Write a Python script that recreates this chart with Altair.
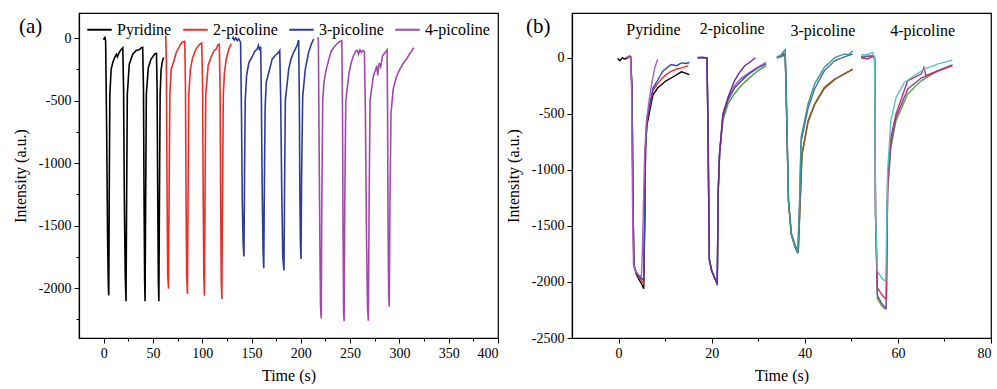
import altair as alt
import pandas as pd

FONT = "Liberation Serif"

# ---------------- Panel (a) data ----------------
series_names = ["Pyridine", "2-picoline", "3-picoline", "4-picoline"]
series_colors = ["#000000", "#e8302a", "#2e3c96", "#a04aab"]

pyridine_t = [0, 0.6, 1.2, 2.0, 3.0, 4.0, 4.8, 5.2, 5.7, 6.3, 7.6, 9.5, 11.5, 13, 14, 15.5, 17, 19.4,
              20.2, 21.0, 21.9, 22.7, 23.3, 24.0, 26.0, 29.5, 33, 36, 38, 39.6,
              40.4, 41.0, 41.6, 42.0, 42.6, 43.3, 45.3, 48, 50.7, 52, 53.6,
              54.2, 54.9, 55.5, 56.0, 56.6, 57.3, 58.2, 59.5, 60.8]
pyridine_y = [0, -15, 10, -20, -700, -1600, -2000, -2060, -1200, -450, -250, -190, -150, -130, -150, -120, -100, -78,
              -400, -1300, -1900, -2105, -1300, -450, -210, -130, -100, -95, -80, -75,
              -400, -1300, -1950, -2105, -1300, -450, -240, -170, -140, -125, -123,
              -400, -1300, -1950, -2105, -1300, -450, -260, -190, -155]

picoline2_t = [63.0, 63.6, 64.3, 65.0, 65.8, 66.4, 67.2, 68.5, 71, 73.5, 75.6, 78, 80, 82.3,
               83.0, 83.6, 84.2, 85.0, 85.6, 86.4, 88, 90, 93, 95, 97.5, 99.5,
               100.4, 101.0, 101.6, 102.2, 102.8, 103.6, 106, 108.6, 112, 114, 116, 117.3,
               118.1, 118.7, 119.3, 119.9, 120.5, 121.4, 122.5, 124.4, 127, 128.8, 129.5]
picoline2_y = [20, -200, -1200, -1900, -2005, -1200, -450, -250, -190, -120, -86, -50, -32, -27,
               -400, -1300, -1900, -2048, -1300, -450, -250, -166, -100, -72, -50, -40,
               -400, -1300, -1900, -2061, -1300, -450, -220, -160, -100, -90, -54, -50,
               -400, -1300, -1950, -2088, -1300, -450, -280, -166, -90, -54, -45]

picoline3_t = [130.5, 131.5, 132.5, 134, 135.5, 137, 138.9, 139.8, 140.6, 141.5, 142.3,
               142.9, 143.6, 145, 147.3, 150.7, 153, 155.7, 157, 158, 159.3,
               160.0, 160.8, 161.7, 162.4, 163.0, 163.8, 165, 167.5, 170.9, 174, 176.6, 178.6,
               179.6, 180.6, 181.7, 182.9, 183.5, 184.3, 187.7, 190, 192.7, 196.1, 197.8,
               198.5, 199.0, 199.6, 200.2, 200.8, 201.9, 204.5, 207.9, 210.6, 213]
picoline3_y = [-10, 5, -15, 0, -20, -5, -35, -600, -1300, -1650, -1748,
               -1100, -500, -300, -196, -150, -110, -88, -60, -90, -70,
               -500, -1200, -1700, -1841, -1200, -550, -350, -276, -169, -140, -123, -100,
               -500, -1200, -1750, -1860, -1200, -500, -249, -170, -115, -62, -16,
               -500, -1200, -1650, -1767, -1100, -470, -250, -115, -50, -8]

picoline4_t = [217, 217.8, 218.5, 219.4, 220.0, 220.7, 221.3, 222.2, 223.5, 225.8, 230.5, 233, 236.5, 239, 241.6,
               242.3, 242.8, 243.4, 243.9, 244.6, 245.6, 249, 251, 253.4, 256, 257.5, 258.5, 260, 261.5, 263, 264.5,
               265.5, 266.5, 267.6, 268.5, 269.3, 270.2, 273.6, 276, 277, 278, 279.5, 281, 282.9, 285, 286.9, 287.5,
               288.0, 288.5, 289.1, 289.7, 290.4, 291.5, 293.7, 297, 300.5, 304, 307.3, 310, 312, 314, 315]
picoline4_y = [5, -10, -800, -1700, -2150, -2243, -1300, -500, -350, -249, -110, -80, -48, -30, -21,
               -600, -1500, -2200, -2264, -1300, -500, -276, -200, -142, -102, -100, -130, -95, -115, -100, -107,
               -600, -1500, -2150, -2261, -1300, -500, -303, -250, -222, -300, -200, -230, -142, -120, -102, -95,
               -600, -1500, -2050, -2150, -1300, -600, -410, -310, -249, -200, -169, -130, -110, -83, -85]

# ---------------- Panel (b) data (drawing order: later = on top) ----------------
b_curves = {
    "pyr_black": ([-0.2, 0.3, 0.8, 1.3, 1.8, 2.3, 2.6, 2.9, 3.1, 3.3, 3.8, 4.4, 5.0, 5.4, 5.6, 5.8, 6.1, 6.7, 7.4, 8.4, 9.2, 10.2, 11.3, 12.7, 13.5, 14.2, 15.2],
                  [-5, -25, 0, -10, -5, 15, 10, -300, -1300, -1850, -1930, -1980, -2020, -2060, -1500, -800, -600, -470, -330, -270, -240, -205, -180, -145, -125, -135, -150]),
    "pyr_red": ([1.5, 2.3, 2.6, 2.9, 3.1, 3.3, 3.8, 4.4, 5.0, 5.4, 5.6, 5.8, 6.1, 6.7, 7.4, 8.4, 9.2, 10.2, 11.3, 12.5, 13.5, 14.2, 15.0],
                [0, 10, 5, -300, -1300, -1850, -1920, -1960, -1990, -2017, -1500, -800, -560, -440, -290, -230, -190, -150, -120, -100, -90, -80, -70]),
    "pyr_blue": ([1.5, 2.6, 2.9, 3.1, 3.3, 3.8, 4.4, 5.0, 5.4, 5.6, 5.8, 6.1, 6.7, 7.4, 8.4, 9.5, 11.3, 12.5, 13.5, 14.5, 15.2],
                 [0, 5, -300, -1300, -1850, -1920, -1950, -1970, -1985, -1500, -800, -540, -420, -270, -200, -120, -60, -70, -45, -50, -42]),
    "pyr_orchid": ([1.5, 2.6, 2.8, 3.0, 3.2, 3.8, 4.4, 4.9, 5.1, 5.6, 6.0, 6.5, 7.1, 7.8, 8.4],
                   [5, 5, -300, -1300, -1850, -1910, -1940, -1950, -1745, -857, -560, -400, -234, -86, -12]),
    "pic2_green": ([17.0, 19.0, 19.2, 19.5, 20.0, 20.6, 21.0, 21.2, 21.4, 21.7, 22.4, 23.5, 24.9, 26.3, 27.8, 29.9, 31.7],
                   [0, 0, -600, -1800, -1900, -1960, -1990, -2010, -1200, -857, -560, -410, -320, -250, -190, -116, -71]),
    "pic2_blue": ([17.0, 19.0, 19.2, 19.5, 20.0, 20.6, 21.0, 21.2, 21.4, 21.7, 22.4, 23.5, 24.9, 26.3, 27.8, 29.9, 31.7],
                  [0, 0, -600, -1800, -1900, -1960, -1990, -2010, -1200, -857, -530, -380, -270, -210, -150, -90, -55]),
    "pic2_violet": ([17.0, 19.0, 19.2, 19.5, 20.0, 20.6, 21.0, 21.2, 21.4, 21.7, 22.4, 23.5, 24.9, 26.3, 27.8, 29.2, 30.5, 31.7],
                    [5, 0, -600, -1800, -1900, -1960, -2000, -2020, -1200, -857, -520, -370, -250, -185, -140, -100, -70, -40]),
    "pic2_purple": ([17.0, 18.0, 19.0, 19.2, 19.5, 20.0, 20.6, 21.0, 21.2, 21.4, 21.7, 22.4, 23.5, 24.9, 26.0, 27.1, 28.2, 29.4],
                    [0, 5, 0, -600, -1800, -1900, -1960, -2000, -2030, -1200, -857, -500, -353, -205, -130, -71, -40, 0]),
    "pic3_olive": ([34.0, 35.0, 35.5, 35.8, 36.0, 36.5, 37.1, 37.9, 38.6, 39.0, 39.4, 40.7, 42.1, 44.2, 46.4, 48.5, 50.3],
                   [0, 10, 20, 10, -300, -1275, -1560, -1670, -1730, -1300, -870, -575, -420, -275, -195, -140, -105]),
    "pic3_brown": ([34.0, 35.0, 35.5, 35.8, 36.0, 36.5, 37.1, 37.9, 38.6, 39.0, 39.4, 40.7, 42.1, 44.2, 46.4, 48.5, 50.3],
                   [10, 20, 30, 20, -300, -1275, -1570, -1680, -1740, -1300, -857, -560, -412, -264, -190, -145, -101]),
    "pic3_blue": ([34.0, 35.0, 35.5, 35.8, 36.0, 36.5, 37.1, 37.9, 38.5, 38.9, 39.2, 40.7, 42.1, 44.2, 46.4, 48.5, 50.3],
                  [0, 20, 40, 20, -300, -1275, -1580, -1690, -1745, -1275, -750, -450, -278, -116, -27, 9, 33]),
    "pic3_teal": ([34.0, 34.5, 35.0, 35.5, 35.8, 36.0, 36.5, 37.1, 37.9, 38.5, 38.9, 39.2, 40.7, 42.1, 44.2, 46.4, 47.5, 48.5, 49.5, 50.3],
                  [0, 10, 30, 60, 74, -300, -1275, -1572, -1676, -1735, -1275, -709, -412, -234, -86, 0, 20, 33, 30, 62]),
    "pic4_green": ([52.1, 54.6, 55.0, 55.2, 55.6, 56.5, 57.1, 57.5, 57.8, 58.5, 59.6, 62.1, 65.0, 68.5, 71.7],
                   [10, 20, 0, -1400, -2150, -2210, -2237, -2240, -1200, -798, -561, -323, -205, -116, -62]),
    "pic4_purple": ([52.1, 54.6, 55.0, 55.2, 55.6, 56.5, 57.1, 57.5, 57.8, 58.5, 59.6, 62.1, 65.0, 68.5, 71.7],
                    [5, 15, 0, -1400, -2120, -2190, -2220, -2230, -1150, -760, -530, -280, -180, -120, -70]),
    "pic4_crimson": ([52.1, 53.5, 54.6, 55.0, 55.2, 55.6, 56.5, 57.1, 57.5, 57.8, 58.5, 59.6, 62.1, 65.0, 65.6, 66.0, 68.5, 71.7],
                     [0, -10, 10, 0, -1400, -2050, -2110, -2140, -2148, -1100, -709, -501, -205, -145, -86, -160, -116, -66]),
    "pic4_cyan": ([52.1, 53.5, 54.6, 55.0, 55.2, 55.6, 56.5, 57.1, 57.4, 57.8, 58.5, 59.6, 61.4, 63.5, 65.7, 68.5, 71.7],
                  [25, 30, 47, 0, -1400, -1900, -1965, -1985, -1990, -1006, -561, -353, -220, -160, -101, -56, -21]),
}
b_colors = ["#000000", "#e8302a", "#2e4aa8", "#b05cc0",
            "#4aa040", "#3a48a8", "#8a5ac0", "#6a2a8a",
            "#7a6a2a", "#8a5a2a", "#4a68a8", "#3a9a9a",
            "#58a840", "#7a4aa0", "#c8306e", "#50c4c4"]

b_label_text = ["Pyridine", "2-picoline", "3-picoline", "4-picoline"]
b_label_t = [7.5, 24.4, 43.9, 65.3]
b_label_y = [245, 255, 240, 240]

# ---------------- build tables ----------------
rows_a = []
for name, ts, ys in zip(series_names,
                        [pyridine_t, picoline2_t, picoline3_t, picoline4_t],
                        [pyridine_y, picoline2_y, picoline3_y, picoline4_y]):
    for i, (t, y) in enumerate(zip(ts, ys)):
        rows_a.append({"t": t, "y": y, "series": name, "i": i})
df_a = pd.DataFrame(rows_a)

rows_b = []
for k, (name, (ts, ys)) in enumerate(b_curves.items()):
    for i, (t, y) in enumerate(zip(ts, ys)):
        rows_b.append({"t": t, "y": y, "curve": name, "i": i, "z": k})
df_b = pd.DataFrame(rows_b)

df_lab = pd.DataFrame({"t": b_label_t, "y": b_label_y, "text": b_label_text})

W, H = 419, 325


def tick_size(major):
    return {"condition": {"test": f"datum.value % {major} === 0", "value": 5}, "value": 3}


# ---------------- Panel (a) ----------------
xa = alt.X("t:Q", scale=alt.Scale(domain=[-25, 400], nice=False, zero=False),
           axis=alt.Axis(title="Time (s)", values=list(range(0, 401, 25)),
                         labelExpr="datum.value % 50 === 0 ? '' + datum.value : ''",
                         tickSize=tick_size(50)))
ya = alt.Y("y:Q", scale=alt.Scale(domain=[-2400, 200], nice=False, zero=False),
           axis=alt.Axis(title="Intensity (a.u.)", values=list(range(-2250, 1, 250)),
                         labelExpr="datum.value % 500 === 0 ? '' + datum.value : ''",
                         tickSize=tick_size(500)))

lines_a = alt.Chart(df_a).mark_line(strokeWidth=1.6).encode(
    x=xa, y=ya,
    color=alt.Color("series:N", scale=alt.Scale(domain=series_names, range=series_colors),
                    legend=alt.Legend(title=None, orient="none", legendX=7, legendY=3,
                                      direction="horizontal", symbolType="stroke",
                                      symbolSize=600, symbolStrokeWidth=2,
                                      labelFont=FONT, labelFontSize=16, labelColor="black",
                                      columnPadding=7, labelOffset=4)),
    order="i:Q",
    detail="series:N",
)
tag_a = alt.Chart(pd.DataFrame({"tag": ["(a)"]})).mark_text(
    font=FONT, fontSize=21, align="left", baseline="middle", color="black"
).encode(x=alt.value(-60), y=alt.value(14), text="tag:N")

panel_a = alt.layer(lines_a, tag_a).properties(width=W, height=H)

# ---------------- Panel (b) ----------------
xb = alt.X("t:Q", scale=alt.Scale(domain=[-10, 80], nice=False, zero=False),
           axis=alt.Axis(title="Time (s)", values=list(range(0, 81, 10)),
                         labelExpr="datum.value % 20 === 0 ? '' + datum.value : ''",
                         tickSize=tick_size(20)))
yb = alt.Y("y:Q", scale=alt.Scale(domain=[-2500, 400], nice=False, zero=False),
           axis=alt.Axis(title="Intensity (a.u.)", values=list(range(-2500, 251, 250)),
                         labelExpr="datum.value % 500 === 0 ? '' + datum.value : ''",
                         tickSize=tick_size(500)))

b_lines = []
for k, name in enumerate(b_curves.keys()):
    b_lines.append(
        alt.Chart(df_b[df_b["curve"] == name]).mark_line(strokeWidth=1.4, color=b_colors[k]).encode(
            x=xb, y=yb, order="i:Q")
    )
labels_b = alt.Chart(df_lab).mark_text(font=FONT, fontSize=16, color="black",
                                       align="center", baseline="middle").encode(
    x="t:Q", y="y:Q", text="text:N")
tag_b = alt.Chart(pd.DataFrame({"tag": ["(b)"]})).mark_text(
    font=FONT, fontSize=21, align="left", baseline="middle", color="black"
).encode(x=alt.value(-46), y=alt.value(14), text="tag:N")

panel_b = alt.layer(*b_lines, labels_b, tag_b).properties(width=W, height=H)

chart = alt.hconcat(panel_a, panel_b, spacing=74, bounds="flush").configure(
    padding={"left": 11, "top": 12, "right": 0, "bottom": 0},
    background="white",
).configure_view(
    stroke="black", strokeWidth=1.2
).configure_axis(
    grid=False, labelFont=FONT, titleFont=FONT, labelFontSize=14, titleFontSize=16,
    titleFontWeight="normal", labelColor="black", titleColor="black",
    domainColor="black", tickColor="black", domainWidth=1.2, tickWidth=1,
    labelPadding=3,
).configure_axisX(titlePadding=7).configure_axisY(titlePadding=10)

chart.save("out.html", embed_options={"renderer": "svg", "actions": False})
